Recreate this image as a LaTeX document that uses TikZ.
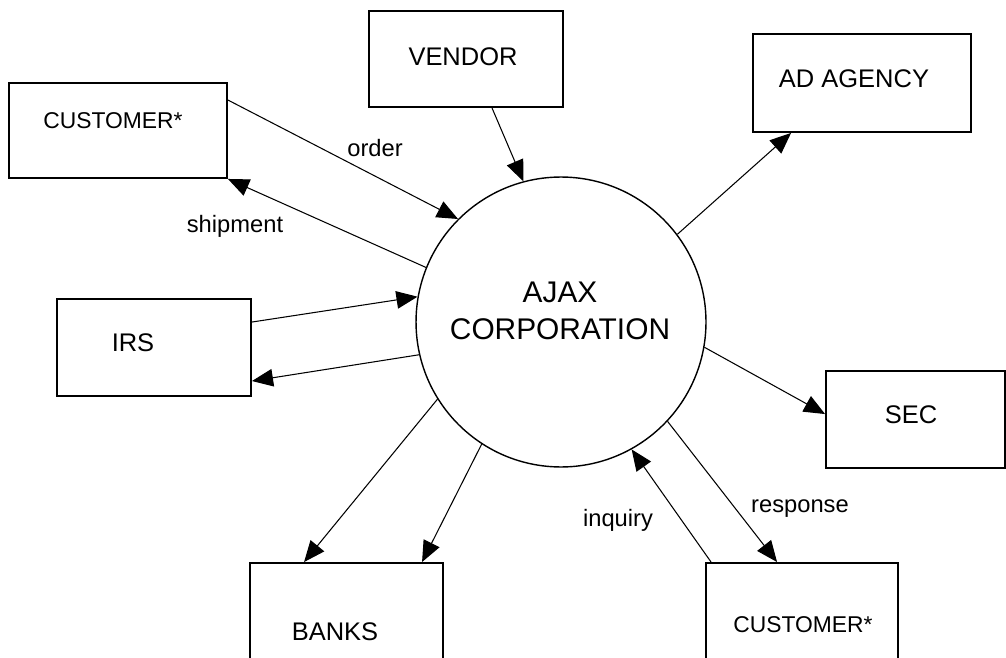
\documentclass[tikz,border=0pt]{standalone}
\usepackage{fontspec}
\setmainfont{Liberation Sans}
\usetikzlibrary{arrows.meta,calc}

\begin{document}
\begin{tikzpicture}[
    x=0.02cm, y=-0.02cm,
    entity/.style={rectangle, draw, line width=1.1pt, inner sep=0pt},
    bubble/.style={circle, draw, line width=0.8pt, minimum size=5.8cm, inner sep=0pt},
    entitytext/.style={font=\fontsize{14.5}{17}\selectfont},
    custtext/.style={font=\fontsize{13}{15}\selectfont},
    flowtext/.style={font=\fontsize{13.5}{16}\selectfont},
    flow/.style={line width=0.6pt, -{Triangle[length=12pt,width=10pt]}}
]
    \useasboundingbox (0,0) rectangle (1006,658);

    % process
    \node[bubble] (corp) at (561,322) {};
    \node[font=\fontsize{17}{21}\selectfont, align=center] (corp-l) at (560,311) {AJAX\\CORPORATION};

    % external entities
    \node[entity, minimum width=4.36cm, minimum height=1.9cm] (cust1) at (118,130.5) {};
    \node[entity, minimum width=3.88cm, minimum height=1.92cm] (vendor) at (466,59) {};
    \node[entity, minimum width=4.36cm, minimum height=1.96cm] (adag) at (862,83) {};
    \node[entity, minimum width=3.88cm, minimum height=1.94cm] (irs) at (154,347.5) {};
    \node[entity, minimum width=3.58cm, minimum height=1.94cm] (sec) at (915.5,419.5) {};
    \node[entity, minimum width=3.86cm, minimum height=1.94cm] (banks) at (346.5,611.5) {};
    \node[entity, minimum width=3.84cm, minimum height=1.94cm] (cust2) at (802,611.5) {};

    \node[custtext] (cust1-l) at (113,121) {CUSTOMER*};
    \node[entitytext] (vendor-l) at (463,57) {VENDOR};
    \node[entitytext] (adag-l) at (854,79) {AD AGENCY};
    \node[entitytext] (irs-l) at (133,343) {IRS};
    \node[entitytext] (sec-l) at (911,415) {SEC};
    \node[entitytext] (banks-l) at (335,632) {BANKS};
    \node[custtext] (cust2-l) at (803,625) {CUSTOMER*};

    % flows
    \draw[flow] ($(cust1.north east)+(0,18)$) -- (corp.135.6);
    \draw[flow] (corp.158) -- (cust1.south east);
    \draw[flow] ($(vendor.south)+(26,0)$) -- (corp.105.2);
    \draw[flow] (corp.37.8) -- ($(adag.south west)+(39,0)$);
    \draw[flow] ($(irs.north east)+(0,24)$) -- (corp.170.9);
    \draw[flow] (corp.193.4) -- ($(irs.north east)+(0,83)$);
    \draw[flow] (corp.212.8) -- ($(banks.north west)+(55,0)$);
    \draw[flow] (corp.237.8) -- ($(banks.north west)+(173,0)$);
    \draw[flow] (corp.350.2) -- ($(sec.north west)+(0,44)$);
    \draw[flow] ($(cust2.north west)+(6,0)$) -- (corp.299);
    \draw[flow] (corp.317.2) -- ($(cust2.north west)+(72,0)$);

    \node[flowtext] (order) at (375,148) {order};
    \node[flowtext] (shipment) at (235,226) {shipment};
    \node[flowtext] (inquiry) at (618,520) {inquiry};
    \node[flowtext] (response) at (800,509) {response};
\end{tikzpicture}
\end{document}
